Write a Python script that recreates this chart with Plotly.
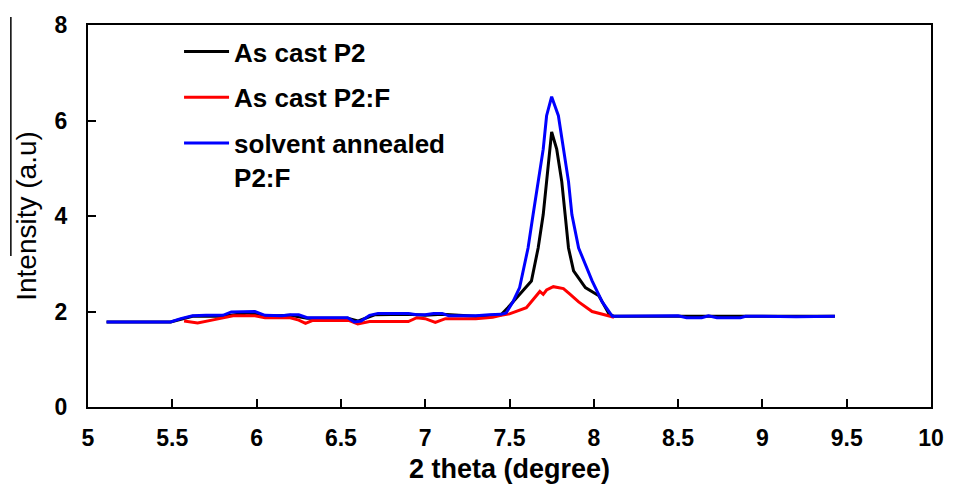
import plotly.graph_objects as go

# --- data ---
blue_x = [5.11, 5.3, 5.49, 5.55, 5.62, 5.7, 5.8, 5.85, 5.95, 5.99, 6.05, 6.15, 6.2, 6.25,
          6.3, 6.4, 6.54, 6.58, 6.62, 6.67, 6.72, 6.8, 6.9, 6.95, 7.0, 7.05, 7.1, 7.14,
          7.2, 7.3, 7.38, 7.45, 7.48, 7.52, 7.56, 7.61, 7.64, 7.67, 7.70, 7.72, 7.75,
          7.79, 7.82, 7.85, 7.87, 7.91, 7.99, 8.05, 8.11, 8.2, 8.3, 8.5, 8.55, 8.64,
          8.68, 8.73, 8.87, 8.9, 9.0, 9.2, 9.43]
blue_y = [1.78, 1.78, 1.78, 1.85, 1.91, 1.92, 1.92, 1.99, 2.0, 2.0, 1.92, 1.91, 1.93, 1.93,
          1.87, 1.87, 1.87, 1.78, 1.8, 1.92, 1.96, 1.96, 1.96, 1.93, 1.93, 1.96, 1.96, 1.91,
          1.91, 1.91, 1.93, 1.94, 1.97, 2.2, 2.5, 3.33, 4.03, 4.72, 5.4, 6.1, 6.5,
          6.1, 5.4, 4.72, 4.03, 3.33, 2.64, 2.2, 1.9, 1.9, 1.91, 1.91, 1.87, 1.87,
          1.91, 1.87, 1.87, 1.9, 1.9, 1.89, 1.9]

red_x = [5.57, 5.65, 5.75, 5.86, 5.99, 6.05, 6.2, 6.25, 6.29, 6.33, 6.55, 6.6, 6.67, 6.9,
         6.95, 7.0, 7.06, 7.12, 7.3, 7.4, 7.45, 7.5, 7.6, 7.65, 7.68, 7.70, 7.72, 7.76,
         7.82, 7.86, 7.91, 7.99, 8.09, 8.12]
red_y = [1.8, 1.76, 1.83, 1.91, 1.91, 1.87, 1.87, 1.82, 1.75, 1.81, 1.81, 1.74, 1.79, 1.79,
         1.87, 1.85, 1.77, 1.85, 1.85, 1.88, 1.92, 1.95, 2.08, 2.28, 2.42, 2.36, 2.45, 2.52,
         2.48, 2.36, 2.2, 2.0, 1.9, 1.88]

black_x = [5.11, 5.49, 5.62, 5.8, 5.95, 6.05, 6.2, 6.3, 6.54, 6.6, 6.7, 6.9, 7.0, 7.1,
           7.3, 7.45, 7.49, 7.63, 7.67, 7.70, 7.72, 7.74, 7.75, 7.78, 7.81, 7.83, 7.85,
           7.88, 7.95, 8.03, 8.09, 8.12, 8.5, 9.0, 9.43]
black_y = [1.78, 1.78, 1.9, 1.9, 1.97, 1.9, 1.92, 1.86, 1.86, 1.8, 1.93, 1.94, 1.92, 1.94,
           1.9, 1.93, 2.08, 2.64, 3.33, 4.03, 4.72, 5.4, 5.76, 5.4, 4.72, 4.03, 3.33,
           2.85, 2.5, 2.33, 1.95, 1.9, 1.9, 1.9, 1.9]

x_ticks = [5, 5.5, 6, 6.5, 7, 7.5, 8, 8.5, 9, 9.5, 10]
y_ticks = [0, 2, 4, 6, 8]

names = ["As cast P2", "As cast P2:F", "solvent annealed<br>P2:F"]

fig = go.Figure()
fig.add_trace(go.Scatter(x=black_x, y=black_y, mode="lines", name=names[0],
                         line=dict(color="#000000", width=3), legendgroup="a"))
fig.add_trace(go.Scatter(x=red_x, y=red_y, mode="lines", name=names[1],
                         line=dict(color="#FF0000", width=3), legendgroup="b"))
fig.add_trace(go.Scatter(x=blue_x, y=blue_y, mode="lines", name=names[2],
                         line=dict(color="#0000FF", width=3), legendgroup="c"))

axis_common = dict(showline=True, linecolor="black", linewidth=2, mirror=True,
                   ticks="inside", ticklen=8, tickwidth=2, tickcolor="black",
                   showgrid=False, zeroline=False)

fig.update_layout(
    width=956, height=494,
    margin=dict(l=88, r=16, t=22, b=87),
    paper_bgcolor="white", plot_bgcolor="white",
    font=dict(family="Liberation Sans, Arial, sans-serif", color="black"),
    xaxis=dict(range=[5, 10], tickvals=x_ticks, ticktext=[str(t) for t in x_ticks],
               tickfont=dict(size=23, weight="bold"), ticklabelstandoff=9,
               title=dict(text="2 theta (degree)", font=dict(size=27, weight="bold"),
                          standoff=10),
               **axis_common),
    yaxis=dict(range=[0, 8], tickvals=y_ticks,
               tickfont=dict(size=23, weight="bold"), ticklabelstandoff=14,
               title=dict(text="Intensity (a.u)", font=dict(size=28), standoff=10),
               **axis_common),
    legend=dict(x=0.108, y=0.992, xanchor="left", yanchor="top",
                font=dict(size=26, weight="bold"), bgcolor="rgba(0,0,0,0)",
                traceorder="grouped", tracegroupgap=9, valign="top",
                itemwidth=45, itemclick=False),
    showlegend=True,
    shapes=[dict(type="line", xref="paper", yref="paper",
                 x0=-0.0915, x1=-0.0915, y0=1.021, y1=0.395,
                 line=dict(color="black", width=1.5))],
)

fig.write_html("out.html")
